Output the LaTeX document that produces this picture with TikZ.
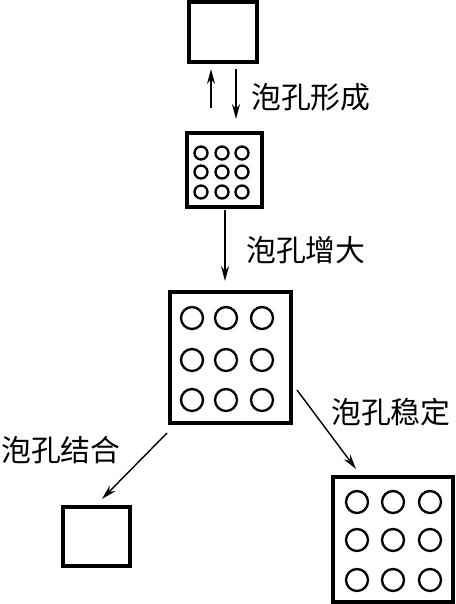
\documentclass[tikz,border=0pt]{standalone}
\usepackage{fontspec}
\newfontfamily\cjk{Noto Sans CJK SC}
\usetikzlibrary{arrows.meta,positioning}
\tikzset{
  cellbox/.style={draw=black,line width=3.2pt,rectangle,inner sep=0pt},
  porecircle/.style={draw=black,line width=2pt},
  flowarrow/.style={-{Stealth[length=4.5mm,width=2.4mm]},line width=1.2pt},
  steplabel/.style={font=\cjk\fontsize{25.5pt}{30pt}\selectfont,anchor=west,inner sep=0pt}
}

\begin{document}
\begin{tikzpicture}[x=0.03cm,y=-0.03cm]
  \useasboundingbox (0,0) rectangle (456,604);
  % boxes
  \node[cellbox,minimum width=2.04cm,minimum height=1.8cm] (solid) at (223,32) {};
  \node[cellbox,minimum width=2.25cm,minimum height=2.22cm] (nucleus) at (224.5,170) {};
  \node[cellbox,minimum width=3.63cm,minimum height=3.93cm] (grown) at (230.5,357.5) {};
  \node[cellbox,minimum width=2.01cm,minimum height=1.77cm] (merged) at (96.5,536.5) {};
  \node[cellbox,minimum width=3.6cm,minimum height=3.75cm] (stable) at (393,539.5) {};
  % pores
  \foreach \x in {201,222,242}
    \foreach \y in {153,172,192}
      \draw[porecircle] (\x,\y) circle (6.5);
  \foreach \x in {192,226,262}
    \foreach \y in {318,360,400}
      \draw[porecircle] (\x,\y) circle (11);
  \foreach \x in {357,393,430}
    \foreach \y in {502,540,580}
      \draw[porecircle] (\x,\y) circle (11);
  % arrows
  \coordinate (upfoot) at (211,108);
  \coordinate (uphead) at (211,69);
  \coordinate (downfoot) at (236,69);
  \coordinate (downhead) at (236,119);
  \draw[flowarrow] (upfoot) -- (uphead);
  \draw[flowarrow] (downfoot) -- (downhead);
  \coordinate (growfoot) at (225,210);
  \coordinate (growhead) at (225,281);
  \draw[flowarrow] (growfoot) -- (growhead);
  \coordinate (mergefoot) at (167,433);
  \coordinate (mergehead) at (102,499);
  \draw[flowarrow] (mergefoot) -- (mergehead);
  \coordinate (stablefoot) at (297,390);
  \coordinate (stablehead) at (356,469);
  \draw[flowarrow] (stablefoot) -- (stablehead);
  % labels
  \node[steplabel] (formlabel) at (251,97) {泡孔形成};
  \node[steplabel] (growlabel) at (246,250) {泡孔增大};
  \node[steplabel] (stablelabel) at (331,412) {泡孔稳定};
  \node[steplabel] (mergelabel) at (1,450) {泡孔结合};
\end{tikzpicture}
\end{document}
